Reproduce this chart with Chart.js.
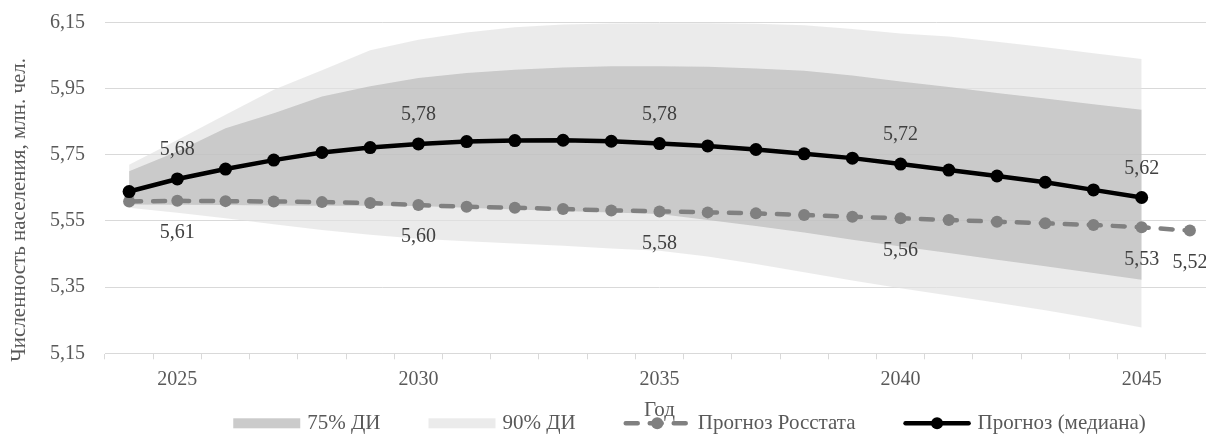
<!DOCTYPE html>
<html>
<head>
<meta charset="utf-8">
<script src="https://cdn.jsdelivr.net/npm/chart.js@4.4.1/dist/chart.umd.min.js"></script>
<style>
  html, body { margin: 0; padding: 0; background: #ffffff; overflow: hidden; }
  #wrap { width: 1230px; height: 434px; position: relative; }
</style>
</head>
<body>
<div id="wrap"><canvas id="c"></canvas></div>
<script>
// Годы прогноза
const years = [2024, 2025, 2026, 2027, 2028, 2029, 2030, 2031, 2032, 2033, 2034, 2035,
               2036, 2037, 2038, 2039, 2040, 2041, 2042, 2043, 2044, 2045, 2046];

// Прогноз (медиана), млн чел.
const median = [5.639, 5.677, 5.707, 5.734, 5.757, 5.772, 5.783, 5.790, 5.793, 5.794, 5.791,
                5.784, 5.777, 5.766, 5.753, 5.740, 5.722, 5.704, 5.686, 5.667, 5.644, 5.621];

// Прогноз Росстата, млн чел.
const rosstat = [5.609, 5.611, 5.610, 5.609, 5.607, 5.604, 5.598, 5.593, 5.590, 5.586, 5.582,
                 5.579, 5.576, 5.573, 5.568, 5.563, 5.558, 5.553, 5.548, 5.543, 5.538, 5.531, 5.521];

// Доверительные интервалы
const ci75High = [5.700, 5.760, 5.830, 5.876, 5.926, 5.957, 5.982, 5.997, 6.007, 6.014, 6.018,
                  6.018, 6.016, 6.011, 6.004, 5.990, 5.972, 5.955, 5.937, 5.920, 5.903, 5.886];
const ci75Low  = [5.600, 5.599, 5.598, 5.597, 5.596, 5.596, 5.595, 5.590, 5.585, 5.580, 5.576,
                  5.571, 5.553, 5.535, 5.515, 5.493, 5.473, 5.453, 5.433, 5.413, 5.393, 5.372];
const ci90High = [5.720, 5.795, 5.871, 5.947, 6.006, 6.066, 6.098, 6.120, 6.136, 6.144, 6.147,
                  6.148, 6.148, 6.146, 6.142, 6.130, 6.117, 6.108, 6.092, 6.075, 6.057, 6.040];
const ci90Low  = [5.590, 5.575, 5.558, 5.540, 5.523, 5.508, 5.496, 5.489, 5.482, 5.475, 5.467,
                  5.460, 5.443, 5.420, 5.395, 5.370, 5.347, 5.325, 5.303, 5.280, 5.255, 5.228];

// Деления оси Y
const yTicks = [5.15, 5.35, 5.55, 5.75, 5.95, 6.15];

// Годы с подписями значений
const medianLabelYears = [2025, 2030, 2035, 2040, 2045];
const rosstatLabelYears = [2025, 2030, 2035, 2040, 2045, 2046];

const FONT = '"Liberation Serif", "Times New Roman", serif';
const FONT_SIZE = 20;
const TITLE_SIZE = 21;
const TEXT = '#595959';
const LABEL = '#404040';
const GRID = '#d9d9d9';
const BAND90 = 'rgba(225,225,225,0.67)';
const BAND75 = 'rgba(180,180,180,0.6)';
const BAND90_SWATCH = '#ebebeb';
const BAND75_SWATCH = '#cbcbcb';

const fmt = v => v.toFixed(2).replace('.', ',');

// Подписи значений у точек
const valueLabels = {
  id: 'valueLabels',
  afterDatasetsDraw(chart) {
    const ctx = chart.ctx;
    ctx.save();
    ctx.font = FONT_SIZE + 'px ' + FONT;
    ctx.fillStyle = LABEL;
    ctx.textAlign = 'center';
    ctx.textBaseline = 'middle';
    chart.data.datasets.forEach((ds, di) => {
      if (!ds.labelYears) return;
      const meta = chart.getDatasetMeta(di);
      ds.labelYears.forEach(yr => {
        const i = years.indexOf(yr);
        const pt = meta.data[i];
        if (!pt) return;
        ctx.fillText(fmt(ds.data[i]), pt.x, pt.y + ds.labelShift);
      });
    });
    ctx.restore();
  }
};

// Заголовки осей и легенда
const frame = {
  id: 'frame',
  afterDraw(chart) {
    const ctx = chart.ctx;
    const area = chart.chartArea;
    ctx.save();
    ctx.font = TITLE_SIZE + 'px ' + FONT;
    ctx.fillStyle = TEXT;
    ctx.textBaseline = 'middle';

    // Заголовок оси Y
    ctx.save();
    ctx.translate(19, (area.top + area.bottom) / 2 + 22);
    ctx.rotate(-Math.PI / 2);
    ctx.textAlign = 'center';
    ctx.fillText('Численность населения, млн. чел.', 0, 0);
    ctx.restore();

    // Заголовок оси X
    ctx.textAlign = 'center';
    ctx.fillText('Год', (area.left + area.right) / 2, area.bottom + 57);

    // Легенда
    const items = [
      { kind: 'box', color: BAND75_SWATCH, text: '75% ДИ' },
      { kind: 'box', color: BAND90_SWATCH, text: '90% ДИ' },
      { kind: 'line', color: '#808080', dash: [12, 12], text: 'Прогноз Росстата' },
      { kind: 'line', color: '#000000', dash: [], text: 'Прогноз (медиана)' }
    ];
    const sym = 67, gapSym = 7, gapItem = 48;
    let total = 0;
    items.forEach((it, k) => {
      it.w = ctx.measureText(it.text).width;
      total += sym + gapSym + it.w + (k < items.length - 1 ? gapItem : 0);
    });
    const cy = area.bottom + 70;
    let x = (area.left + area.right) / 2 + 30 - total / 2;
    ctx.textAlign = 'left';
    items.forEach(it => {
      if (it.kind === 'box') {
        ctx.fillStyle = it.color;
        ctx.fillRect(x, cy - 5, sym, 10);
      } else {
        ctx.strokeStyle = it.color;
        ctx.lineWidth = 4.5;
        ctx.lineCap = 'round';
        ctx.setLineDash(it.dash);
        ctx.beginPath();
        ctx.moveTo(x + 2, cy);
        ctx.lineTo(x + sym - 2, cy);
        ctx.stroke();
        ctx.setLineDash([]);
        ctx.fillStyle = it.color;
        ctx.beginPath();
        ctx.arc(x + sym / 2, cy, 6, 0, Math.PI * 2);
        ctx.fill();
      }
      ctx.fillStyle = TEXT;
      ctx.fillText(it.text, x + sym + gapSym, cy);
      x += sym + gapSym + it.w + gapItem;
    });
    ctx.restore();
  }
};

new Chart(document.getElementById('c'), {
  type: 'line',
  data: {
    labels: years,
    datasets: [
      {
        label: 'Прогноз (медиана)',
        data: median,
        borderColor: '#000000',
        backgroundColor: '#000000',
        borderWidth: 4.5,
        pointRadius: 6.5,
        pointBorderWidth: 0,
        pointBackgroundColor: '#000000',
        fill: false,
        labelYears: medianLabelYears,
        labelShift: -29
      },
      {
        label: 'Прогноз Росстата',
        data: rosstat,
        borderColor: '#808080',
        backgroundColor: '#808080',
        borderWidth: 4.5,
        borderDash: [12, 12],
        borderCapStyle: 'round',
        pointRadius: 6,
        pointBorderWidth: 0,
        pointBackgroundColor: '#808080',
        fill: false,
        labelYears: rosstatLabelYears,
        labelShift: 32
      },
      {
        label: '75% ДИ',
        data: ci75High,
        borderWidth: 0,
        pointRadius: 0,
        backgroundColor: BAND75,
        fill: 3
      },
      {
        label: '75% ДИ (нижняя граница)',
        data: ci75Low,
        borderWidth: 0,
        pointRadius: 0,
        fill: false
      },
      {
        label: '90% ДИ',
        data: ci90High,
        borderWidth: 0,
        pointRadius: 0,
        backgroundColor: BAND90,
        fill: 5
      },
      {
        label: '90% ДИ (нижняя граница)',
        data: ci90Low,
        borderWidth: 0,
        pointRadius: 0,
        fill: false
      }
    ]
  },
  options: {
    responsive: true,
    maintainAspectRatio: false,
    animation: false,
    devicePixelRatio: 1,
    layout: { padding: { top: 22.5, right: 16, left: 0, bottom: 0 } },
    plugins: {
      legend: { display: false },
      tooltip: { enabled: false }
    },
    scales: {
      x: {
        type: 'category',
        offset: true,
        grid: {
          offset: true,
          drawOnChartArea: false,
          drawTicks: true,
          tickLength: 6,
          color: GRID
        },
        border: { display: true, color: GRID, width: 1 },
        ticks: {
          autoSkip: false,
          maxRotation: 0,
          padding: 8,
          color: TEXT,
          font: { family: FONT, size: FONT_SIZE },
          callback: function (value) {
            const yr = this.getLabelForValue(value);
            return yr % 5 === 0 ? String(yr) : '';
          }
        },
        afterFit(scale) { scale.height = 80.7; }
      },
      y: {
        min: 5.15,
        max: 6.15,
        grid: { color: GRID, drawTicks: false, lineWidth: 1 },
        border: { display: false },
        ticks: {
          padding: 20,
          color: TEXT,
          font: { family: FONT, size: FONT_SIZE },
          callback: v => fmt(v)
        },
        afterBuildTicks(scale) { scale.ticks = yTicks.map(v => ({ value: v })); },
        afterFit(scale) {
          scale.width = 105;
          scale.paddingTop = 10;
          scale.paddingBottom = 10;
        }
      }
    }
  },
  plugins: [valueLabels, frame]
});
</script>
</body>
</html>
